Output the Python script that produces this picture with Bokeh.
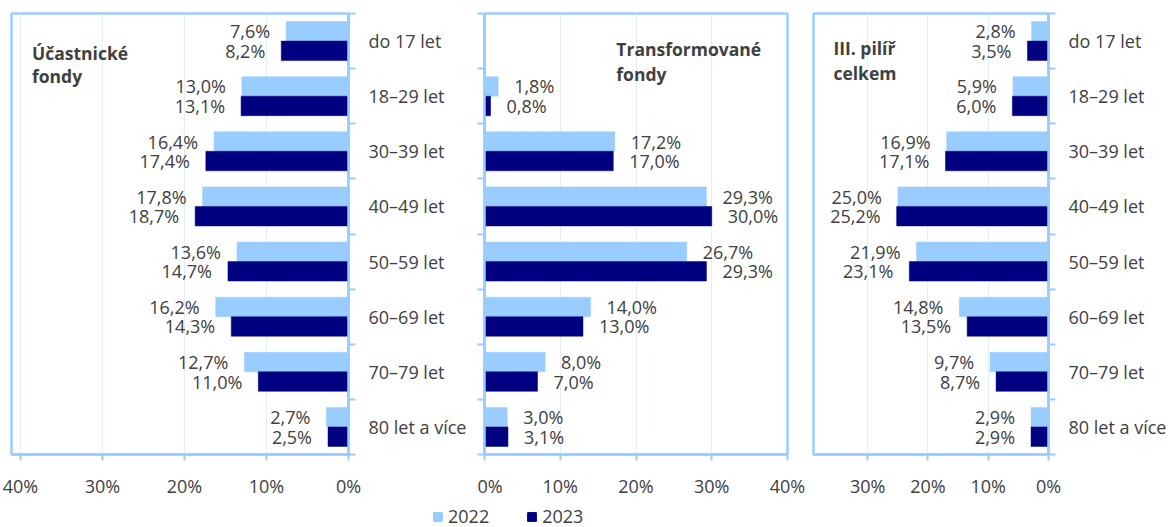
from bokeh.plotting import figure
from bokeh.models import (ColumnDataSource, Range1d, FixedTicker, PrintfTickFormatter,
                          Label, Legend, LegendItem)
from bokeh.transform import dodge
from bokeh.layouts import row, column
from bokeh.core.properties import value
from bokeh.embed import file_html
from bokeh.resources import INLINE

# ---------------- data ----------------
categories = ["do 17 let", "18–29 let", "30–39 let", "40–49 let",
              "50–59 let", "60–69 let", "70–79 let", "80 let a více"]
years = ["2022", "2023"]

ucastnicke_2022 = [7.6, 13.0, 16.4, 17.8, 13.6, 16.2, 12.7, 2.7]
ucastnicke_2023 = [8.2, 13.1, 17.4, 18.7, 14.7, 14.3, 11.0, 2.5]

transformovane_2022 = [None, 1.8, 17.2, 29.3, 26.7, 14.0, 8.0, 3.0]
transformovane_2023 = [None, 0.8, 17.0, 30.0, 29.3, 13.0, 7.0, 3.1]

pilir_2022 = [2.8, 5.9, 16.9, 25.0, 21.9, 14.8, 9.7, 2.9]
pilir_2023 = [3.5, 6.0, 17.1, 25.2, 23.1, 13.5, 8.7, 2.9]

title_ucastnicke = ["Účastnické", "fondy"]
title_transformovane = ["Transformované", "fondy"]
title_pilir = ["III. pilíř", "celkem"]

ticks_40 = [0, 10, 20, 30, 40]
ticks_30 = [0, 10, 20, 30]

# ---------------- style ----------------
C22 = "#99ccff"
C23 = "#000080"
FRAME = "#99ccff"
TXT = "#404040"
GRID = "#e1eefb"
FONT = "Open Sans"
FS = "18px"

ROW_H = 500
TOP = 13
BOTTOM = 43
BAR_H = 0.353
OFF = 0.177


def fmt(v):
    return ("%.1f" % v).replace(".", ",") + "%"


def panel(v22, v23, x_start, x_end, width, mb_left, mb_right, yloc, show_cat,
          ticks, title_lines, title_x, title_ys, label_dx):
    p = figure(width=width, height=ROW_H, output_backend="svg", toolbar_location=None,
               x_range=Range1d(x_start, x_end), y_range=Range1d(7.5, -0.5),
               y_axis_location=yloc,
               min_border_left=mb_left, min_border_right=mb_right,
               min_border_top=TOP, min_border_bottom=BOTTOM)
    p.outline_line_color = FRAME
    p.outline_line_width = 2.5
    p.background_fill_color = "white"
    p.border_fill_color = "white"
    p.ygrid.visible = False
    p.xgrid.grid_line_color = GRID
    p.xgrid.grid_line_width = 1
    p.xgrid.ticker = FixedTicker(ticks=ticks)

    # x axis
    xa = p.xaxis[0]
    xa.ticker = FixedTicker(ticks=ticks)
    xa.formatter = PrintfTickFormatter(format="%d%%")
    xa.axis_line_color = FRAME
    xa.axis_line_width = 2.5
    xa.major_tick_line_color = FRAME
    xa.major_tick_line_width = 2
    xa.major_tick_out = 6
    xa.major_tick_in = 0
    xa.minor_tick_line_color = None
    xa.major_label_text_font = FONT
    xa.major_label_text_font_size = FS
    xa.major_label_text_color = TXT
    xa.major_label_standoff = 13

    # y axis (categories at centers, tick marks at category boundaries)
    ya = p.yaxis[0]
    idx = list(range(len(categories)))
    bounds = [i - 0.5 for i in idx] + [len(idx) - 0.5]
    ya.axis_line_color = FRAME
    ya.axis_line_width = 2.5
    ya.major_tick_line_color = None
    ya.major_tick_out = 0
    ya.major_tick_in = 0
    ya.minor_tick_line_color = FRAME
    ya.minor_tick_line_width = 2
    ya.minor_tick_out = 7
    ya.minor_tick_in = 0
    if show_cat:
        ya.ticker = FixedTicker(ticks=idx, minor_ticks=bounds)
        ya.major_label_overrides = {i: c for i, c in zip(idx, categories)}
        ya.major_label_text_font = FONT
        ya.major_label_text_font_size = FS
        ya.major_label_text_color = TXT
        ya.major_label_standoff = 13
    else:
        ya.ticker = FixedTicker(ticks=[], minor_ticks=bounds)
        ya.major_label_standoff = 0

    for vals, col, dy in ((v22, C22, -OFF), (v23, C23, OFF)):
        ys = [i for i, v in enumerate(vals) if v is not None]
        vs = [v for v in vals if v is not None]
        src = ColumnDataSource(dict(y=ys, v=vs, lab=[fmt(v) for v in vs]))
        p.hbar(y=dodge("y", dy), left=0, right="v", height=BAR_H, source=src,
               fill_color=col, line_color=col, line_width=0.5)
        p.text(x="v", y=dodge("y", dy), text="lab", source=src,
               x_offset=label_dx, text_align="left" if label_dx > 0 else "right",
               text_baseline="middle", text_font=value(FONT), text_font_size=FS,
               text_color=TXT)

    for line, ty in zip(title_lines, title_ys):
        p.add_layout(Label(x=title_x, y=ty, text=line, text_font=FONT,
                           text_font_size="17.5px", text_font_style="bold",
                           text_color=TXT, text_baseline="alphabetic",
                           text_align="left"))
    return p


p1 = panel(ucastnicke_2022, ucastnicke_2023, 41.1, 0, 477, 11, 129, "right", True,
           ticks_40, title_ucastnicke, 38.6, [0.221, 0.64], -16)
p2 = panel(transformovane_2022, transformovane_2023, 0, 40, 329, 7, 19, "left", False,
           ticks_40, title_transformovane, 17.4, [0.145, 0.595], 16)
p3 = panel(pilir_2022, pilir_2023, 39, 0, 366, 7, 124, "right", True,
           ticks_30, title_pilir, 35.7, [0.13, 0.58], -16)

# ---------------- legend strip ----------------
pl = figure(width=1172, height=27, output_backend="svg", toolbar_location=None,
            x_range=Range1d(0, 1), y_range=Range1d(0, 1),
            min_border_left=0, min_border_right=0, min_border_top=0, min_border_bottom=0)
pl.axis.visible = False
pl.grid.visible = False
pl.outline_line_color = None
leg_src = ColumnDataSource(dict(y=list(range(len(categories))), a=pilir_2022, b=pilir_2023))
r22 = pl.hbar(y="y", right="a", height=0.5, fill_color=C22, line_color=C22, source=leg_src)
r23 = pl.hbar(y="y", right="b", height=0.5, fill_color=C23, line_color=C23, source=leg_src)
r22.visible = False
r23.visible = False
leg = Legend(items=[LegendItem(label=years[0], renderers=[r22]),
                    LegendItem(label=years[1], renderers=[r23])],
             location=(432, -1), orientation="horizontal", click_policy="none",
             glyph_width=11, glyph_height=11, label_standoff=5, spacing=37,
             padding=0, margin=0, border_line_color=None, background_fill_alpha=0,
             label_text_font=FONT, label_text_font_size=FS, label_text_color=TXT,
             label_height=20)
pl.add_layout(leg, "center")

layout = column(row(p1, p2, p3), pl)
open("out.html", "w").write(file_html(layout, INLINE))
